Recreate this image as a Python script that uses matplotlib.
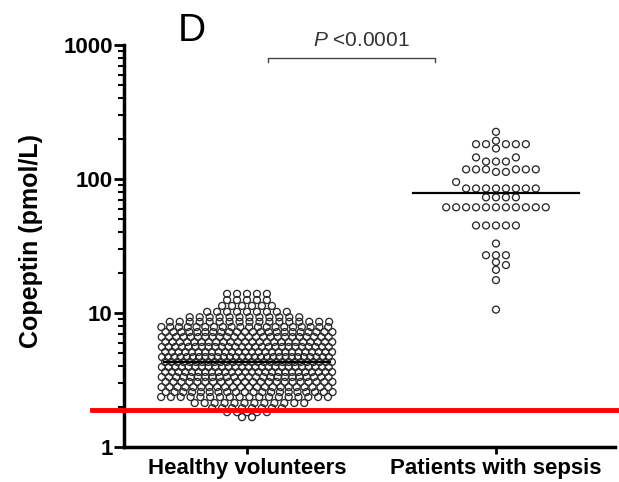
import numpy as np
import matplotlib
matplotlib.use('Agg')
import matplotlib.pyplot as plt

plt.rcParams['font.family'] = 'Liberation Sans'
plt.rcParams['mathtext.fontset'] = 'custom'
plt.rcParams['mathtext.it'] = 'Liberation Sans:italic'
plt.rcParams['mathtext.rm'] = 'Liberation Sans'

groups = ['Healthy volunteers', 'Patients with sepsis']

# healthy volunteers: one entry per row of the column scatter (value, how many points)
healthy_vals = [13.9, 12.5, 11.3, 10.2, 9.3, 8.6,
                7.86, 7.21, 6.62, 6.08, 5.58, 5.12, 4.69, 4.31,
                3.95, 3.63, 3.33, 3.06, 2.80, 2.57, 2.36,
                2.13, 1.95, 1.82, 1.67]
healthy_counts = [5, 5, 6, 9, 12, 17,
                  20, 22, 24, 24, 26, 26, 28, 28,
                  26, 26, 24, 22, 22, 20, 18,
                  12, 8, 5, 2]

# sepsis patients, copeptin in pmol/L
sepsis = [225, 193, 182, 182, 182, 182, 182, 169,
          145, 145, 135, 135, 135,
          118, 118, 118, 118, 118, 118, 113, 113,
          95, 85, 85, 85, 85, 85, 85, 85, 85,
          73, 73, 73, 73,
          61.5, 61.5, 61.5, 61.5, 61.5, 61.5, 61.5, 61.5, 61.5, 61.5, 61.5,
          45, 45, 45, 45, 45, 33, 27, 27, 27, 24, 22.8, 21, 17.6, 10.6]

medians = [4.3, 79]
cutoff = 1.89

fig = plt.figure(figsize=(6.19, 4.82), dpi=100)
ax = fig.add_axes([0.2003, 0.0726, 0.7932, 0.834])
ax.set_yscale('log')
ax.set_ylim(1, 1000)
ax.set_xlim(-0.494, 1.478)

step = 0.04      # horizontal spacing between neighbouring circles
half_w = 0.335   # half width of a column

# rows for the healthy group, squeezed when they get too wide
hx, hy = [], []
for i, (v, n) in enumerate(zip(healthy_vals, healthy_counts)):
    sp = step if n < 2 else min(step, 2 * half_w / (n - 1))
    shift = 0.25 * sp if i % 2 else -0.25 * sp
    offs = (np.arange(n) - (n - 1) / 2) * sp + (shift if n > 10 else 0)
    hx.extend(0 + offs)
    hy.extend([v] * n)

# simple swarm for the sepsis group, checked in pixel space
fig.canvas.draw()
placed = []
sx, sy = [], []
for v in sorted(sepsis):
    ypx = ax.transData.transform((1, v))[1]
    k = 0
    while True:
        cand = [0] if k == 0 else [k, -k]
        ok = None
        for c in cand:
            x = 1 + c * step
            xpx = ax.transData.transform((x, v))[0]
            if all(not (abs(xpx - px) < 8 and abs(ypx - py) < 6.5) for px, py in placed):
                ok = (x, xpx)
                break
        if ok:
            placed.append((ok[1], ypx))
            sx.append(ok[0])
            sy.append(v)
            break
        k += 1

ms = 25
ax.scatter(hx, hy, s=ms, facecolors='none', edgecolors='#2a2a2a', linewidths=0.95, zorder=3)
ax.scatter(sx, sy, s=ms, facecolors='none', edgecolors='#2a2a2a', linewidths=0.95, zorder=3)

for i, m in enumerate(medians):
    ax.plot([i - 0.335, i + 0.335], [m, m], color='black', lw=1.6, zorder=4)

# cut-off line
ax.axhline(cutoff, xmin=-0.065, xmax=1.02, color='#ff0000', lw=3.5, clip_on=False, zorder=5)

# significance bracket
ax.plot([0.084, 0.084, 0.755, 0.755], [750, 800, 800, 750], color='#444444', lw=1.0, clip_on=False)
ax.text(0.46, 1080, r'$\it{P}$ <0.0001', ha='center', va='center', fontsize=15, color='#333333')
fig.text(0.31, 0.935, 'D', ha='center', va='center', fontsize=28)

ax.set_xticks([0, 1])
ax.set_xticklabels(groups, fontsize=16, fontweight='bold')
ax.set_yticks([1, 10, 100, 1000])
ax.set_yticklabels(['1', '10', '100', '1000'], fontsize=16, fontweight='bold')
ax.tick_params(axis='y', which='major', length=7, width=2, pad=1)
ax.tick_params(axis='y', which='minor', length=4, width=1.5)
ax.tick_params(axis='x', length=5, width=2, pad=3)

for s in ['top', 'right']:
    ax.spines[s].set_visible(False)
for s in ['left', 'bottom']:
    ax.spines[s].set_linewidth(2.5)

fig.text(0.05, 0.50, 'Copeptin (pmol/L)', rotation=90, ha='center', va='center',
         fontsize=18, fontweight='bold')

fig.savefig('out.png', dpi=100)
